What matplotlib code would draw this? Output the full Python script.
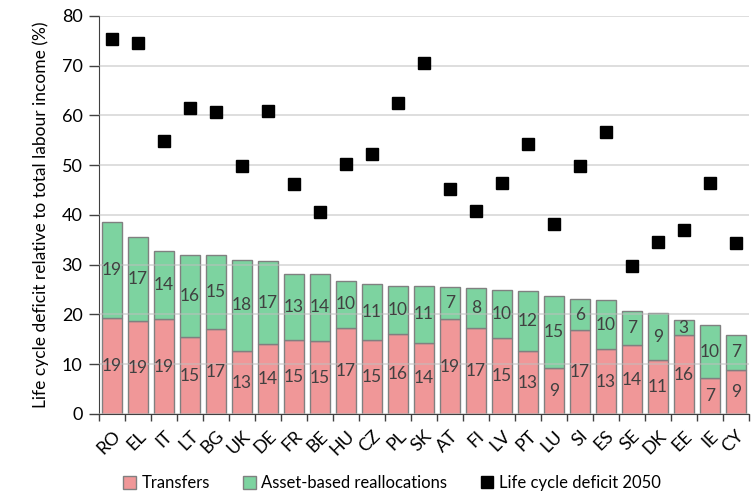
import matplotlib.pyplot as plt
import numpy as np
from matplotlib.patches import Patch
from matplotlib.lines import Line2D

plt.rcParams['font.family'] = ['Lato', 'DejaVu Sans']

countries = ['RO', 'EL', 'IT', 'LT', 'BG', 'UK', 'DE', 'FR', 'BE', 'HU', 'CZ', 'PL', 'SK',
             'AT', 'FI', 'LV', 'PT', 'LU', 'SI', 'ES', 'SE', 'DK', 'EE', 'IE', 'CY']
transfers = [19.2, 18.6, 19.0, 15.4, 17.0, 12.6, 14.0, 14.8, 14.6, 17.2, 14.8, 16.1, 14.3,
             19.0, 17.2, 15.3, 12.6, 9.2, 16.8, 13.0, 13.8, 10.8, 15.8, 7.3, 8.9]
assets = [19.3, 16.9, 13.8, 16.5, 14.9, 18.4, 16.7, 13.4, 13.6, 9.6, 11.4, 9.7, 11.4,
          6.6, 8.1, 9.6, 12.1, 14.6, 6.2, 9.8, 6.9, 9.4, 3.0, 10.5, 7.0]
deficit_2050 = [75.3, 74.5, 54.9, 61.5, 60.7, 49.8, 60.8, 46.2, 40.5, 50.2, 52.3, 62.4, 70.6,
                45.2, 40.7, 46.4, 54.2, 38.1, 49.8, 56.7, 29.8, 34.6, 37.0, 46.4, 34.4]

pink = '#f09798'
green = '#7dd3a0'
edge = '#808080'
txt = '#404040'

fig = plt.figure(figsize=(7.51, 4.94), dpi=100)
ax = fig.add_axes([0.132, 0.162, 0.865, 0.806])

x = np.arange(len(countries))
w = 0.77
tr = np.array(transfers)
asb = np.array(assets)
ax.bar(x, tr, w, color=pink, edgecolor=edge, linewidth=1.0, zorder=1)
ax.bar(x, asb, w, bottom=tr, color=green, edgecolor=edge, linewidth=1.0, zorder=1)
ax.plot(x, deficit_2050, 's', color='black', ms=8.5, zorder=4)

for i in range(len(countries)):
    ax.text(x[i], tr[i] / 2, f'{tr[i]:.0f}', ha='center', va='center',
            fontsize=12.5, color=txt, zorder=5)
    ax.text(x[i], tr[i] + asb[i] / 2, f'{asb[i]:.0f}', ha='center', va='center',
            fontsize=12.5, color=txt, zorder=5)

ax.set_xlim(-0.5, len(countries) - 0.5)
ax.set_ylim(0, 80)
ax.set_yticks(range(0, 81, 10))
ax.tick_params(axis='y', labelsize=13, length=7, width=1, color='#404040', pad=5)
ax.set_xticks(x)
ax.set_xticklabels(countries, rotation=45, ha='right', rotation_mode='anchor', fontsize=13)
ax.tick_params(axis='x', which='major', length=0, pad=10)
ax.set_xticks(np.arange(-0.5, len(countries)), minor=True)
ax.tick_params(axis='x', which='minor', length=5, width=1, color='#404040')

ax.set_axisbelow(False)
ax.yaxis.grid(True, color='#bfbfbf', alpha=0.6, linewidth=1.2)
ax.set_ylabel('Life cycle deficit relative to total labour income (%)', fontsize=12.5, labelpad=9)

for s in ['top', 'right']:
    ax.spines[s].set_visible(False)
ax.spines['left'].set_color('#404040')
ax.spines['bottom'].set_color('#404040')

handles = [Patch(facecolor=pink, edgecolor=edge),
           Patch(facecolor=green, edgecolor=edge),
           Line2D([], [], marker='s', color='black', linestyle='none', ms=8)]
fig.legend(handles, ['Transfers', 'Asset-based reallocations', 'Life cycle deficit 2050'],
           loc='lower center', bbox_to_anchor=(0.522, -0.025), ncol=3, frameon=False,
           fontsize=12, handlelength=0.8, handleheight=0.8, handletextpad=0.3,
           columnspacing=2.0)

fig.savefig('out.png', dpi=100)
